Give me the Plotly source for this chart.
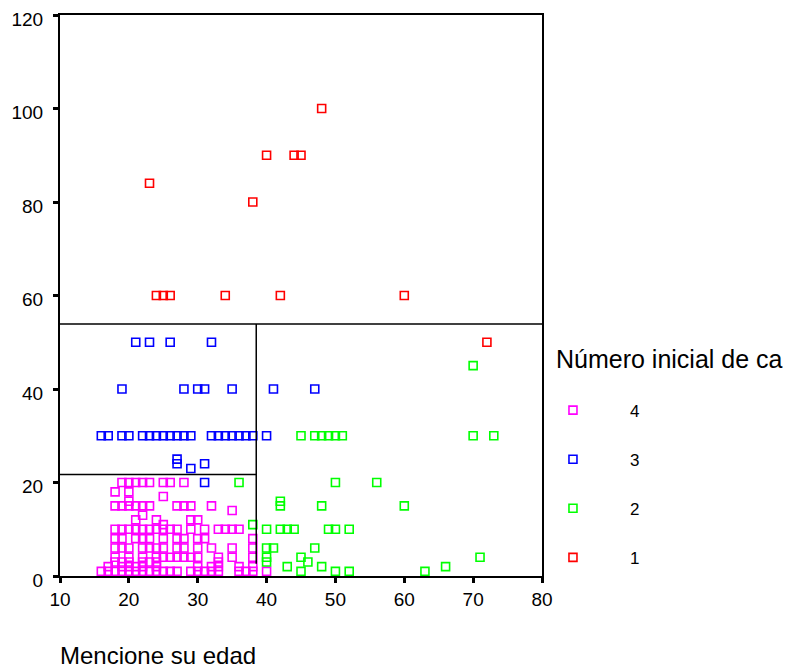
import plotly.graph_objects as go

# ---- data ----
c4_age = [19, 20, 21, 22, 23, 25, 26, 28,
          18, 20, 25, 20,
          18, 19, 20, 21, 22, 23, 27, 28, 29, 32,
          35, 22, 21, 24, 29, 30, 25,
          18, 19, 20, 21, 22, 23, 24, 25, 26, 27, 29, 31, 33, 34, 35, 36,
          18, 19, 21, 22, 23, 25, 27, 28, 30, 31, 38,
          18, 19, 20, 22, 23, 24, 25, 27, 28, 30, 32, 35, 38,
          18, 20, 22, 24, 25, 26, 27, 28, 29, 30, 33, 35, 38,
          18, 19, 20, 22, 23, 24, 33,
          17, 19, 20, 21, 22, 24, 30, 32, 33, 36, 38,
          16, 17, 18, 19, 20, 21, 22, 23, 24, 25, 26, 27, 29, 30, 31, 32, 33, 36, 37, 38, 40]
c4_val = [20] * 8 + [18, 18, 17, 16] + [15] * 10 + [14, 13, 12, 12, 12, 12, 11] + \
         [10] * 16 + [8] * 11 + [6] * 13 + [4] * 13 + [3] * 7 + [2] * 11 + [1] * 21

c3_age = [21, 23, 26, 32,
          19, 28, 30, 31, 35, 41, 47,
          16, 17, 19, 20, 22, 23, 24, 25, 26, 27, 28, 29, 32, 33, 34, 35, 36, 37, 38, 40,
          27, 27, 31, 29, 31]
c3_val = [50] * 4 + [40] * 7 + [30] * 20 + [25, 24, 24, 23, 20]

c2_age = [70,
          45, 47, 48, 49, 50, 51, 70, 73,
          36, 50, 56,
          42, 42, 48, 60,
          38,
          40, 42, 43, 44, 49, 50, 52,
          40, 41, 47,
          40, 45, 71,
          40, 46,
          43, 48, 66,
          45, 50, 52, 63]
c2_val = [45] + [30] * 8 + [20] * 3 + [16, 15, 15, 15] + [11] + [10] * 7 + [6] * 3 + \
         [4] * 3 + [3] * 2 + [2] * 3 + [1] * 4

c1_age = [48, 40, 44, 45, 23, 38, 24, 25, 26, 34, 42, 60, 72]
c1_val = [100, 90, 90, 90, 84, 80, 60, 60, 60, 60, 60, 60, 50]

clusters = ["4", "3", "2", "1"]
ages = [c4_age, c3_age, c2_age, c1_age]
vals = [c4_val, c3_val, c2_val, c1_val]
colors = ["#FF00FF", "#0000FF", "#00FF00", "#FF0000"]

x_ticks = [10, 20, 30, 40, 50, 60, 70, 80]
y_ticks = [0, 20, 40, 60, 80, 100, 120]

FONT = "Arial, Liberation Sans, sans-serif"

fig = go.Figure()
for name, xa, ya, col in zip(clusters, ages, vals, colors):
    fig.add_trace(go.Scatter(
        x=xa, y=ya, mode="markers", name=name, legendgroup=name,
        marker=dict(symbol="square-open", size=8, color=col,
                    line=dict(width=1.6, color=col)),
    ))

# division lines
line_style = dict(color="black", width=1.5)
fig.add_shape(type="line", xref="x", yref="y", x0=10, x1=80, y0=53.9, y1=53.9, line=line_style)
fig.add_shape(type="line", xref="x", yref="y", x0=10, x1=38.5, y0=21.7, y1=21.7, line=line_style)
fig.add_shape(type="line", xref="x", yref="y", x0=38.5, x1=38.5, y0=2.6, y1=53.9, line=line_style)

fig.update_layout(
    width=793, height=670,
    margin=dict(l=52, r=259, t=7, b=102, autoexpand=False),
    plot_bgcolor="white", paper_bgcolor="white",
    font=dict(family=FONT, size=19, color="black"),
    showlegend=True,
    legend=dict(x=0.946, xanchor="left", y=0.327, yanchor="top",
                font=dict(size=17, family=FONT), itemwidth=104,
                tracegroupgap=24, bgcolor="rgba(0,0,0,0)"),
    xaxis=dict(range=[10, 80], tickvals=x_ticks, ticks="outside", ticklen=5,
               tickwidth=3, tickcolor="black", showgrid=False, zeroline=False,
               showline=True, linecolor="black", linewidth=2, mirror=True,
               ticklabelstandoff=0, ticklabeloverflow="allow", automargin=False,
               tickfont=dict(size=19, family=FONT)),
    yaxis=dict(range=[0, 120], tickvals=y_ticks, ticks="outside", ticklen=5,
               tickwidth=3, tickcolor="black", showgrid=False, zeroline=False,
               showline=True, linecolor="black", linewidth=2, mirror=True,
               ticklabelstandoff=6, ticklabelshift=4, ticklabeloverflow="allow",
               automargin=False,
               tickfont=dict(size=19, family=FONT)),
    annotations=[
        dict(text="Mencione su edad", xref="paper", yref="paper", x=-0.004, y=-0.141,
             xanchor="left", yanchor="middle", showarrow=False,
             font=dict(size=24, family=FONT)),
        dict(text="Número inicial de ca", xref="paper", yref="paper", x=1.024, y=0.3875,
             xanchor="left", yanchor="middle", showarrow=False,
             font=dict(size=25, family=FONT)),
    ],
)

fig.write_html("out.html")
